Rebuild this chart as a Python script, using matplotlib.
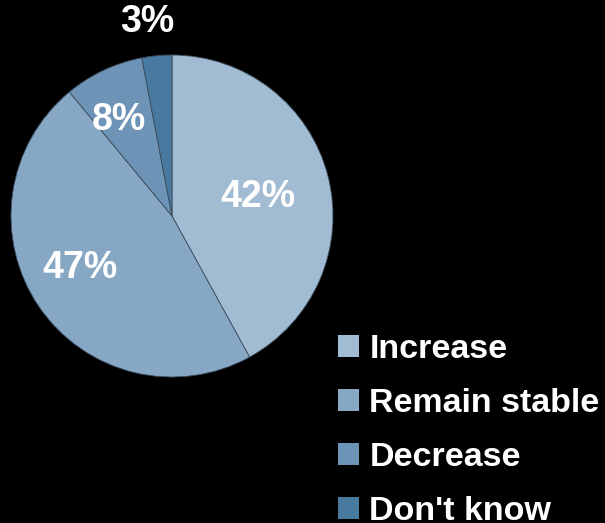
import matplotlib
matplotlib.use('Agg')
import matplotlib.pyplot as plt

categories = ['Increase', 'Remain stable', 'Decrease', "Don't know"]
shares = [42, 47, 8, 3]
colors = ['#a1bbd2', '#87a8c5', '#6d94b6', '#48799f']

# label placement (pie units), picked by eye from the reference
label_xy = [(0.534, 0.118), (-0.57, -0.323), (-0.329, 0.596), (-0.155, 1.205)]

plt.rcParams['font.family'] = ['Liberation Sans', 'DejaVu Sans']
plt.rcParams['font.weight'] = 'bold'

fig = plt.figure(figsize=(6.05, 5.23), dpi=100, facecolor='black')
ax = fig.add_axes([11/605, (523-377)/523, 322/605, 322/523])
ax.set_facecolor('black')

wedges, texts, autotexts = ax.pie(shares, colors=colors, startangle=90, counterclock=False,
                                  autopct='%d%%', radius=1,
                                  wedgeprops=dict(linewidth=0.6, edgecolor='#3d4d5d'),
                                  textprops=dict(color='white', fontsize=27, fontweight='bold'))
for t, (x, y) in zip(autotexts, label_xy):
    t.set_position((x, y))
    t.set_clip_on(False)
ax.set_xlim(-1, 1)
ax.set_ylim(-1, 1)
ax.set_aspect('equal')
ax.axis('off')

leg = fig.legend(wedges, categories, loc='upper left', bbox_to_anchor=(338/605, 1-334/523),
                 frameon=False, fontsize=24.5, handlelength=0.62, handleheight=0.62,
                 handletextpad=0.3, labelspacing=0.68, borderpad=0, borderaxespad=0)
for t in leg.get_texts():
    t.set_color('white')
    t.set_fontweight('bold')
for h in leg.legend_handles:
    h.set_linewidth(0)

fig.savefig('out.png', dpi=100, facecolor='black')
